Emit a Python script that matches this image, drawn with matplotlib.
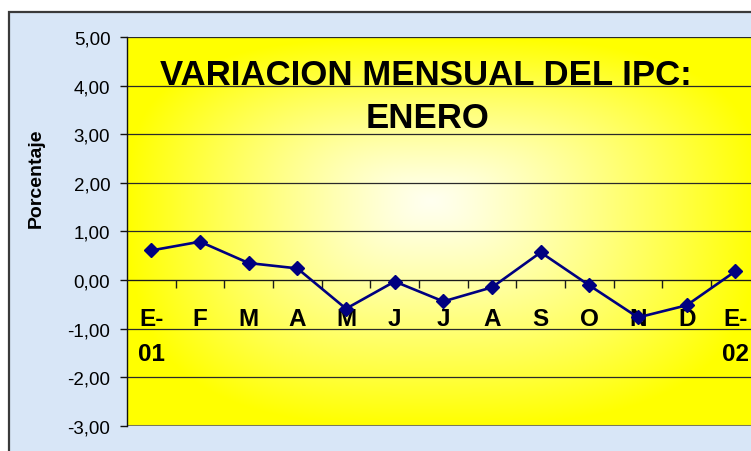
import numpy as np
import matplotlib.pyplot as plt
from matplotlib.patches import Rectangle

# Data
meses = ['E-\n01', 'F', 'M', 'A', 'M', 'J', 'J', 'A', 'S', 'O', 'N', 'D', 'E-\n02']
variacion = [0.61, 0.79, 0.35, 0.24, -0.59, -0.03, -0.44, -0.15, 0.57, -0.11, -0.77, -0.52, 0.18]
y_ticks = [-3, -2, -1, 0, 1, 2, 3, 4, 5]
y_labels = ['-3,00', '-2,00', '-1,00', '0,00', '1,00', '2,00', '3,00', '4,00', '5,00']

plt.rcParams['font.family'] = ['Liberation Sans', 'DejaVu Sans']

W, H = 751, 452
fig = plt.figure(figsize=(W / 100, H / 100), dpi=100, facecolor='white')

# chart area (light blue with dark border)
fig.patches.append(Rectangle((9 / W, -0.1), 1.2, 1 - 13 / H + 0.1, transform=fig.transFigure,
                             facecolor='#d8e6f7', edgecolor='#3a3a3a', lw=1.6, zorder=-5))

n = len(meses)
left, top, bottom = 127 / W, 1 - 38.3 / H, 1 - 426.7 / H
width = n * 48.67 / W
ax = fig.add_axes([left, bottom, width, top - bottom])
ax.patch.set_alpha(0)

# plot area gradient: white in the middle, yellow at the edges
gx, gy = np.meshgrid(np.linspace(0, 1, 400), np.linspace(0, 1, 300))
cx, cy = 0.48, 0.58
dx = np.abs(gx - cx) / np.where(gx < cx, cx, 1 - cx)
dy = np.abs(gy - cy) / np.where(gy < cy, cy, 1 - cy)
t = np.clip((dx ** 3 + dy ** 3) ** (1 / 3), 0, 1) ** 1.2
img = np.ones((300, 400, 3))
img[..., 2] = np.clip(0.94 * (1 - t), 0, 1)
ax.imshow(img, extent=[-0.5, n - 0.5, -3, 5], origin='lower', aspect='auto', zorder=0)
ax.set_xlim(-0.5, n - 0.5)
ax.set_ylim(-3, 5)

for y in y_ticks:
    ax.axhline(y, color='#2a2a2a', lw=0.9, zorder=1)
ax.axhline(-3, color='#7a7a5a', lw=2.2, zorder=1)

ax.plot(range(n), variacion, color='#000080', lw=1.9, marker='D', markersize=7.5,
        markerfacecolor='#000080', markeredgecolor='#000080', zorder=3)

# axes
for s in ['top', 'right']:
    ax.spines[s].set_visible(False)
ax.spines['bottom'].set_position(('data', 0))
ax.spines['bottom'].set_color('#1a1a1a')
ax.spines['left'].set_color('#111111')
ax.spines['left'].set_linewidth(1.0)

ax.set_yticks(y_ticks)
ax.set_yticklabels(y_labels, fontsize=13.5)
ax.tick_params(axis='y', length=5, width=1, pad=7, color='#111111')

ax.set_xticks(range(n))
ax.set_xticklabels(meses, fontsize=17.5, fontweight='bold', linespacing=1.65)
ax.set_xticks(np.arange(0.5, n - 1, 1), minor=True)
ax.tick_params(axis='x', which='major', length=0, pad=19.5)
ax.tick_params(axis='x', which='minor', length=6, width=1, direction='out', color='#1a1a1a')

fig.text(36 / W, 1 - 178 / H, 'Porcentaje', rotation=90, fontsize=14, fontweight='bold',
         ha='center', va='center')

fig.text(426 / W, 1 - 85 / H, 'VARIACION MENSUAL DEL IPC:', fontsize=25, fontweight='bold',
         ha='center', va='baseline')
fig.text(428 / W, 1 - 128 / H, 'ENERO', fontsize=25, fontweight='bold',
         ha='center', va='baseline')

fig.savefig('out.png', dpi=100)
